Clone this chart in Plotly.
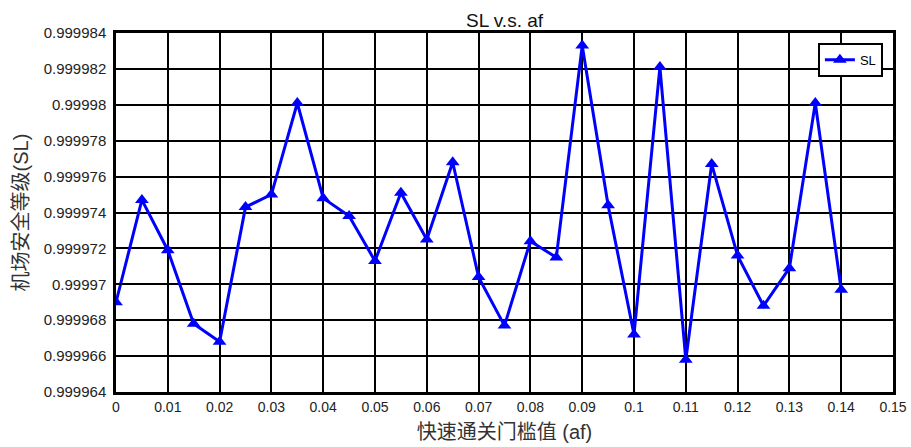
import plotly.graph_objects as go

# Fast-clearance threshold (af) and resulting airport safety level (SL)
af = [0.000, 0.005, 0.010, 0.015, 0.020, 0.025, 0.030, 0.035, 0.040, 0.045,
      0.050, 0.055, 0.060, 0.065, 0.070, 0.075, 0.080, 0.085, 0.090, 0.095,
      0.100, 0.105, 0.110, 0.115, 0.120, 0.125, 0.130, 0.135, 0.140]
sl = [0.9999690, 0.9999747, 0.9999719, 0.9999678, 0.9999668, 0.9999743,
      0.9999750, 0.9999801, 0.9999748, 0.9999738, 0.9999713, 0.9999751,
      0.9999725, 0.9999768, 0.9999704, 0.9999677, 0.9999724, 0.9999715,
      0.9999833, 0.9999744, 0.9999672, 0.9999821, 0.9999658, 0.9999767,
      0.9999716, 0.9999688, 0.9999709, 0.9999801, 0.9999697]

x_ticks = [0, 0.01, 0.02, 0.03, 0.04, 0.05, 0.06, 0.07, 0.08, 0.09, 0.10,
           0.11, 0.12, 0.13, 0.14, 0.15]
x_tick_text = ["0", "0.01", "0.02", "0.03", "0.04", "0.05", "0.06", "0.07",
               "0.08", "0.09", "0.1", "0.11", "0.12", "0.13", "0.14", "0.15"]
y_ticks = [0.999964, 0.999966, 0.999968, 0.999970, 0.999972, 0.999974,
           0.999976, 0.999978, 0.999980, 0.999982, 0.999984]
y_tick_text = ["0.999964", "0.999966", "0.999968", "0.99997", "0.999972",
               "0.999974", "0.999976", "0.999978", "0.99998", "0.999982",
               "0.999984"]

FONT = "Liberation Sans, Arial, Noto Sans CJK SC, sans-serif"

fig = go.Figure()
fig.add_trace(go.Scatter(
    x=af, y=sl, name="SL", mode="lines+markers",
    line=dict(color="#0000FF", width=3),
    marker=dict(symbol="triangle-up", size=12, color="#0000FF"),
))

axis_common = dict(
    showline=True, linecolor="black", linewidth=2.5, mirror="allticks",
    ticks="inside", ticklen=5, tickwidth=1.5, tickcolor="black",
    showgrid=True, gridcolor="black", gridwidth=1.5,
    zeroline=False, automargin=False,
)

fig.update_xaxes(
    range=[0, 0.15], tickvals=x_ticks, ticktext=x_tick_text,
    tickfont=dict(family=FONT, size=14, color="#222"),
    title=dict(text="快速通关门槛值 (af)", standoff=12,
               font=dict(family=FONT, size=20, color="#333")),
    **axis_common,
)
fig.update_yaxes(
    range=[0.999964, 0.999984], tickvals=y_ticks, ticktext=y_tick_text,
    tickfont=dict(family=FONT, size=15, color="#222"),
    ticklabelstandoff=4,
    title=dict(text="机场安全等级(SL)", standoff=10,
               font=dict(family=FONT, size=20, color="#333")),
    **axis_common,
)

fig.update_layout(
    width=911, height=447,
    margin=dict(l=116, r=18, t=33, b=55),
    paper_bgcolor="white", plot_bgcolor="white",
    title=dict(text="SL v.s. af", x=0.5, xref="paper", y=0.955,
               yanchor="middle", font=dict(family=FONT, size=19, color="#111")),
    showlegend=True,
    legend=dict(x=0.987, y=0.973, xanchor="right", yanchor="top",
                bgcolor="white", bordercolor="black", borderwidth=2,
                itemwidth=30, font=dict(family=FONT, size=13, color="black"),
                tracegroupgap=0),
)

fig.write_html("out.html")
